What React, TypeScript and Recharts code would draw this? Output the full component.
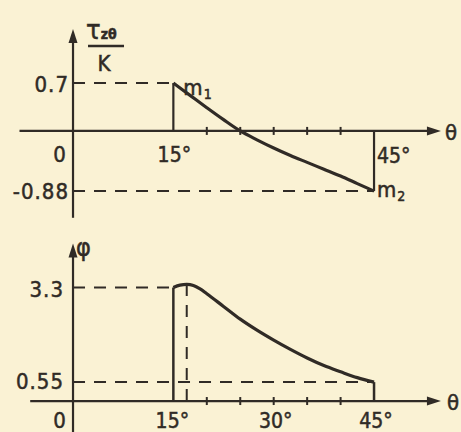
import React from "react";
import { LineChart, Line, XAxis, YAxis, ReferenceLine, ReferenceDot } from "recharts";

// upper diagram: tau_z_theta / K against theta (degrees)
const tauTheta = [15, 17.5, 20, 22.5, 25, 27.5, 30, 32.5, 35, 37.5, 40, 42.5, 45];
const tauValues = [0.7, 0.52, 0.34, 0.165, 0, -0.13, -0.25, -0.36, -0.46, -0.56, -0.66, -0.77, -0.88];

// lower diagram: phi against theta
const phiTheta = [15, 16, 17, 18, 19, 20, 22.5, 25, 27.5, 30, 32.5, 35, 37.5, 40, 42.5, 45];
const phiValues = [3.3, 3.37, 3.39, 3.36, 3.26, 3.12, 2.75, 2.38, 2.06, 1.77, 1.5, 1.25, 1.03, 0.85, 0.68, 0.55];

const thetaTicks = [20, 25, 30, 35, 40];
const thetaStart = 15;
const thetaEnd = 45;
const tauMax = 0.7;
const tauMin = -0.88;
const phiMax = 3.3;
const phiEnd = 0.55;
const phiPeakTheta = 17;
const phiPeak = 3.39;
const topThetaLabels = [15, 45];
const bottomThetaLabels = [15, 30, 45];

const INK = "#302b26";
const PAPER = "#faf2d4";
const FONT = "'DejaVu Sans Condensed', 'Liberation Sans', sans-serif";
const DASH = "12 9";

const tauData = tauTheta.map((theta, i) => ({ theta, tau: tauValues[i] }));
const phiData = phiTheta.map((theta, i) => ({ theta, phi: phiValues[i] }));

type P = { cx?: number; cy?: number };

const label =
  (text: React.ReactNode, dx: number, dy: number, anchor: "start" | "middle" | "end" = "middle", size = 22, spacing = 1) =>
  (p: P) => (
    <text
      x={(p.cx ?? 0) + dx}
      y={(p.cy ?? 0) + dy}
      textAnchor={anchor}
      fontSize={size}
      fill={INK}
      stroke={INK}
      strokeWidth={0.5}
      fontFamily={FONT}
      letterSpacing={spacing}
    >
      {text}
    </text>
  );

const arrowRight = (p: P) => <path d={`M${p.cx},${p.cy}l-14,-4.5v9z`} fill={INK} />;
const arrowUp = (p: P) => <path d={`M${p.cx},${p.cy}l-4.5,14h9z`} fill={INK} />;
const tickMark = (p: P) => (
  <line x1={p.cx} x2={p.cx} y1={(p.cy ?? 0) - 4} y2={(p.cy ?? 0) + 4} stroke={INK} strokeWidth={2} />
);

const tauTitle = (p: P) => {
  const x = p.cx ?? 0;
  const y = p.cy ?? 0;
  return (
    <g fill={INK} stroke={INK} strokeWidth={0.5} fontFamily={FONT}>
      <text x={x + 13} y={y + 10} fontSize={27}>
        τ<tspan fontSize={14} fontWeight="bold">zθ</tspan>
      </text>
      <line x1={x + 15} x2={x + 51} y1={y + 17} y2={y + 17} strokeWidth={2.4} />
      <text x={x + 31} y={y + 42} fontSize={22} textAnchor="middle">
        K
      </text>
    </g>
  );
};

const sub = (main: string, s: string) => (
  <>
    {main}
    <tspan fontSize={14} dy={4}>
      {s}
    </tspan>
  </>
);

const axisStroke = { stroke: INK, strokeWidth: 2.2 };
const dashStroke = { stroke: INK, strokeWidth: 2, strokeDasharray: DASH };

const TauChart = () => (
  <LineChart width={461} height={226} data={tauData} margin={{ top: 0, right: 0, bottom: 0, left: 19.5 }}>
    <XAxis dataKey="theta" type="number" domain={[-8, 58]} hide allowDataOverflow />
    <YAxis type="number" domain={[-1.39, 1.914]} hide allowDataOverflow />
    <ReferenceLine segment={[{ x: 0, y: tauMax }, { x: thetaStart, y: tauMax }]} {...dashStroke} />
    <ReferenceLine segment={[{ x: 0, y: tauMin }, { x: thetaEnd, y: tauMin }]} {...dashStroke} />
    <ReferenceLine segment={[{ x: -8, y: 0 }, { x: 53, y: 0 }]} {...axisStroke} />
    <ReferenceLine segment={[{ x: 0, y: -1.27 }, { x: 0, y: 1.35 }]} {...axisStroke} />
    <ReferenceLine segment={[{ x: thetaStart, y: 0 }, { x: thetaStart, y: tauMax }]} {...axisStroke} />
    <ReferenceLine segment={[{ x: thetaEnd, y: 0 }, { x: thetaEnd, y: tauMin }]} {...axisStroke} />
    <Line dataKey="tau" type="monotone" stroke={INK} strokeWidth={3.2} dot={false} isAnimationActive={false} />
    {thetaTicks.map((t) => (
      <ReferenceDot key={t} x={t} y={0} shape={tickMark} />
    ))}
    <ReferenceDot x={55} y={0} shape={arrowRight} />
    <ReferenceDot x={0} y={1.49} shape={arrowUp} />
    <ReferenceDot x={0} y={1.49} shape={tauTitle} />
    <ReferenceDot x={55} y={0} shape={label("θ", 4, 9, "start")} />
    <ReferenceDot x={0} y={tauMax} shape={label("0.7", -4, 9, "end")} />
    <ReferenceDot x={0} y={tauMin} shape={label("-0.88", -4, 8, "end")} />
    <ReferenceDot x={0} y={0} shape={label("0", -13, 31)} />
    <ReferenceDot x={topThetaLabels[0]} y={0} shape={label(`${topThetaLabels[0]}°`, 1, 31, "middle", 21, 0)} />
    <ReferenceDot x={topThetaLabels[1]} y={0} shape={label(`${topThetaLabels[1]}°`, 3, 32, "start", 21, 0)} />
    <ReferenceDot x={thetaStart} y={tauMax} shape={label(sub("m", "1"), 10, 12, "start")} />
    <ReferenceDot x={thetaEnd} y={tauMin} shape={label(sub("m", "2"), 3, 6, "start")} />
  </LineChart>
);

const PhiChart = () => (
  <LineChart width={461} height={203} data={phiData} margin={{ top: 0, right: 0, bottom: 0, left: 19.5 }}>
    <XAxis dataKey="theta" type="number" domain={[-8, 58]} hide allowDataOverflow />
    <YAxis type="number" domain={[-0.9, 5]} hide allowDataOverflow />
    <ReferenceLine segment={[{ x: 0, y: phiMax }, { x: thetaStart, y: phiMax }]} {...dashStroke} />
    <ReferenceLine segment={[{ x: 0, y: phiEnd }, { x: thetaEnd, y: phiEnd }]} {...dashStroke} />
    <ReferenceLine segment={[{ x: phiPeakTheta, y: 0 }, { x: phiPeakTheta, y: phiPeak }]} {...dashStroke} />
    <ReferenceLine segment={[{ x: -6.4, y: 0 }, { x: 53, y: 0 }]} {...axisStroke} />
    <ReferenceLine segment={[{ x: 0, y: -0.9 }, { x: 0, y: 4.3 }]} {...axisStroke} />
    <ReferenceLine segment={[{ x: thetaStart, y: 0 }, { x: thetaStart, y: phiMax }]} stroke={INK} strokeWidth={2.5} />
    <ReferenceLine segment={[{ x: thetaEnd, y: 0 }, { x: thetaEnd, y: phiEnd }]} stroke={INK} strokeWidth={2.5} />
    <Line dataKey="phi" type="monotone" stroke={INK} strokeWidth={3.2} dot={false} isAnimationActive={false} />
    {thetaTicks.map((t) => (
      <ReferenceDot key={t} x={t} y={0} shape={tickMark} />
    ))}
    <ReferenceDot x={55} y={0} shape={arrowRight} />
    <ReferenceDot x={0} y={4.58} shape={arrowUp} />
    <ReferenceDot x={0} y={4.58} shape={label("φ", 3, 13, "start", 25, 0)} />
    <ReferenceDot x={55} y={0} shape={label("θ", 6, 9, "start")} />
    <ReferenceDot x={0} y={phiMax} shape={label("3.3", -9, 10, "end")} />
    <ReferenceDot x={0} y={phiEnd} shape={label("0.55", -9, 7, "end")} />
    <ReferenceDot x={0} y={0} shape={label("0", -13, 27)} />
    {bottomThetaLabels.map((t) => (
      <ReferenceDot key={`l${t}`} x={t} y={0} shape={label(`${t}°`, t === 15 ? -1 : 2, 27, "middle", 21, 0)} />
    ))}
  </LineChart>
);

export default function App() {
  return (
    <div
      style={{
        position: "absolute",
        left: 0,
        top: 0,
        width: 461,
        height: 432,
        background: PAPER,
        overflow: "hidden",
      }}
    >
      <div style={{ position: "absolute", left: 0, top: 0 }}>
        <TauChart />
      </div>
      <div style={{ position: "absolute", left: 0, top: 228.5 }}>
        <PhiChart />
      </div>
    </div>
  );
}
